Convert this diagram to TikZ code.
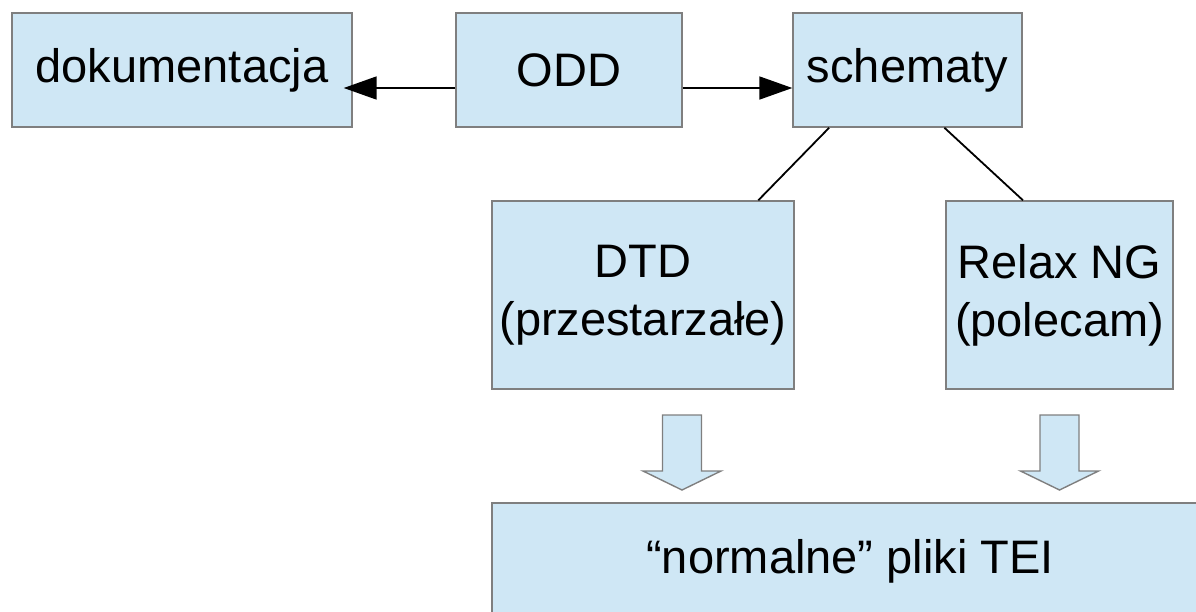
\documentclass[tikz,border=0pt]{standalone}
\usepackage{fontspec}
\setmainfont{Liberation Sans}
\usetikzlibrary{arrows.meta,%
                calc}
\definecolor{boxfill}{HTML}{CFE7F5}
\definecolor{boxline}{HTML}{7F7F7F}

\begin{document}
\begin{tikzpicture}[x=1pt,y=-1pt]
		\tikzset{BoxStyle/.style = {draw=boxline,line width=1.4pt,fill=boxfill,shape=rectangle,inner sep=0pt,align=center,font=\fontsize{47}{58}\selectfont}}
		\tikzset{EdgeStyle/.style = {draw=black,line width=1.8pt}}
		\tikzset{ArrowStyle/.style = {EdgeStyle,-{Triangle[length=33pt,width=23pt]}}}
		\tikzset{BlockStyle/.style = {draw=boxline,line width=1.4pt,fill=boxfill,line join=miter}}
		\clip (0,0) rectangle (1196,611);
		% top row
		\node[BoxStyle,minimum width=340pt,minimum height=114pt] (doku) at (182,70) {dokumentacja};
		\node[BoxStyle,minimum width=226pt,minimum height=114pt] (odd) at (569,70) {ODD};
		\node[BoxStyle,minimum width=229pt,minimum height=114pt] (schem) at (907.5,70) {schematy};
		% schema kinds
		\node[BoxStyle,minimum width=302pt,minimum height=188pt] (dtd) at (643,295) {DTD\\(przestarzałe)};
		\node[BoxStyle,minimum width=227pt,minimum height=188pt] (relax) at (1059.5,295) {Relax NG\\(polecam)};
		%\node[BoxStyle] (tei) at (850,556) {};
		\node[BoxStyle,minimum width=716pt,minimum height=137pt,text height=34pt,text depth=31pt] (tei) at (850,571.5) {“normalne” pliki TEI};
		\draw[ArrowStyle,shorten >=-9pt] ([yshift=-18pt]odd.west) -- ([yshift=-18pt]doku.east);
		\draw[ArrowStyle] ([yshift=-18pt]odd.east) -- ([yshift=-18pt]schem.west);
		\draw[EdgeStyle] ($(schem.south west)!0.16!(schem.south east)$) -- ($(dtd.north west)!0.88!(dtd.north east)$);
		\draw[EdgeStyle] ($(schem.south west)!0.66!(schem.south east)$) -- ($(relax.north west)!0.34!(relax.north east)$);
		\foreach \cx in {682,1059.5} {
			\draw[BlockStyle] (\cx-19.5,415) -- (\cx+19.5,415) -- (\cx+19.5,471) -- (\cx+39,471)
				-- (\cx,490) -- (\cx-39,471) -- (\cx-19.5,471) -- cycle;
		}
	\end{tikzpicture}
\end{document}
